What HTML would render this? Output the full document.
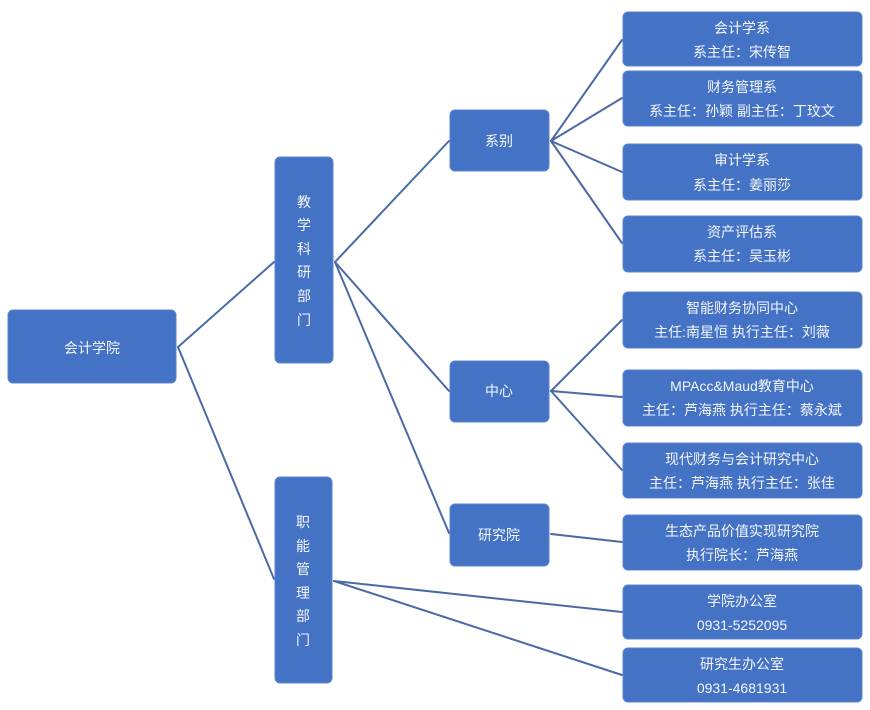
<!DOCTYPE html>
<html><head><meta charset="utf-8"><style>
html,body{margin:0;padding:0;background:#fff;}
svg{display:block;}
text{font-family:"Liberation Sans","Noto Sans CJK SC",sans-serif;font-size:14px;fill:#f4f6fb;text-anchor:middle;dominant-baseline:central;}
</style></head><body>
<svg width="870" height="710" viewBox="0 0 870 710" xmlns="http://www.w3.org/2000/svg">
<g stroke="#4a6aa5" stroke-width="2" fill="none" stroke-linecap="round">
<line x1="178" y1="347" x2="274" y2="262"/>
<line x1="178" y1="347" x2="274" y2="579"/>
<line x1="335" y1="262" x2="449" y2="141"/>
<line x1="335" y1="262" x2="449" y2="391"/>
<line x1="335" y1="262" x2="449" y2="533"/>
<line x1="551" y1="141" x2="622" y2="40"/>
<line x1="551" y1="141" x2="622" y2="98"/>
<line x1="551" y1="141" x2="622" y2="172"/>
<line x1="551" y1="141" x2="622" y2="243"/>
<line x1="551" y1="391" x2="622" y2="320"/>
<line x1="551" y1="391" x2="622" y2="397"/>
<line x1="551" y1="391" x2="622" y2="470"/>
<line x1="551" y1="534" x2="622" y2="542"/>
<line x1="334" y1="581" x2="622" y2="612"/>
<line x1="334" y1="581" x2="622" y2="675"/>
</g>
<g fill="#4472c4" stroke="#5a84cf" stroke-width="1">
<rect x="8" y="310" width="168" height="73" rx="5"/>
<rect x="275" y="157" width="58" height="206" rx="5"/>
<rect x="275" y="477" width="57" height="206" rx="5"/>
<rect x="450" y="110" width="99" height="61" rx="5"/>
<rect x="450" y="361" width="99" height="61" rx="5"/>
<rect x="450" y="504" width="99" height="62" rx="5"/>
<rect x="623" y="12" width="239" height="54" rx="5"/>
<rect x="623" y="71" width="239" height="55" rx="5"/>
<rect x="623" y="144" width="239" height="56" rx="5"/>
<rect x="623" y="216" width="239" height="56" rx="5"/>
<rect x="623" y="292" width="239" height="56" rx="5"/>
<rect x="623" y="370" width="239" height="56" rx="5"/>
<rect x="623" y="443" width="239" height="55" rx="5"/>
<rect x="623" y="515" width="239" height="55" rx="5"/>
<rect x="623" y="585" width="239" height="54" rx="5"/>
<rect x="623" y="648" width="239" height="54" rx="5"/>
</g>
<text x="92" y="348">会计学院</text>
<text x="304" y="202">教</text>
<text x="304" y="225">学</text>
<text x="304" y="249">科</text>
<text x="304" y="272">研</text>
<text x="304" y="296">部</text>
<text x="304" y="320">门</text>
<text x="303" y="522">职</text>
<text x="303" y="546">能</text>
<text x="303" y="569">管</text>
<text x="303" y="593">理</text>
<text x="303" y="616">部</text>
<text x="303" y="640">门</text>
<text x="499" y="141">系别</text>
<text x="499" y="391">中心</text>
<text x="499" y="535">研究院</text>
<text x="742" y="28">会计学系</text>
<text x="742" y="52">系主任：宋传智</text>
<text x="742" y="87">财务管理系</text>
<text x="742" y="111">系主任：孙颖 副主任：丁玟文</text>
<text x="742" y="160">审计学系</text>
<text x="742" y="185">系主任：姜丽莎</text>
<text x="742" y="232">资产评估系</text>
<text x="742" y="256">系主任：吴玉彬</text>
<text x="742" y="308">智能财务协同中心</text>
<text x="742" y="332">主任:南星恒 执行主任：刘薇</text>
<text x="742" y="386">MPAcc&amp;Maud教育中心</text>
<text x="742" y="410">主任：芦海燕 执行主任：蔡永斌</text>
<text x="742" y="459">现代财务与会计研究中心</text>
<text x="742" y="483">主任：芦海燕 执行主任：张佳</text>
<text x="742" y="531">生态产品价值实现研究院</text>
<text x="742" y="555">执行院长：芦海燕</text>
<text x="742" y="601">学院办公室</text>
<text x="742" y="625">0931-5252095</text>
<text x="742" y="664">研究生办公室</text>
<text x="742" y="688">0931-4681931</text>
</svg>
</body></html>
